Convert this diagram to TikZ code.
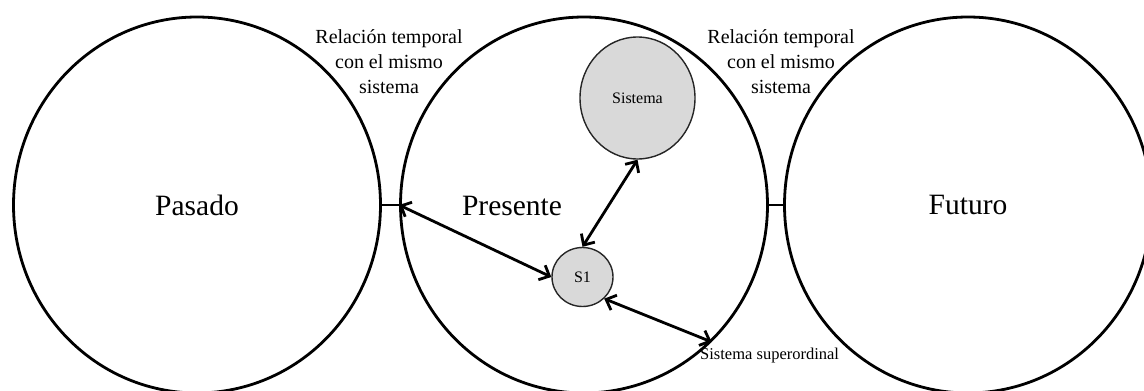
\documentclass[tikz,border=0pt]{standalone}
\usepackage{fontspec}
\setmainfont{Liberation Serif}
\usetikzlibrary{arrows.meta,shapes.geometric}
\begin{document}
\begin{tikzpicture}[x=1pt,y=-1pt,
  era/.style={draw, ellipse, line width=2.8pt, minimum width=367pt,
    minimum height=376pt, inner sep=0pt, font=\fontsize{29.5}{34}\selectfont},
  bigtext/.style={font=\fontsize{29.5}{34}\selectfont, inner sep=0pt},
  subsys/.style={draw=black!85, fill=gray!30, ellipse, line width=1.4pt,
    inner sep=0pt, font=\fontsize{16}{19}\selectfont},
  note/.style={align=center, inner sep=0pt, font=\fontsize{20}{25}\selectfont},
  link/.style={line width=2.8pt,
    {Straight Barb[length=8.5pt,width=16pt]}-{Straight Barb[length=8.5pt,width=16pt]}},
  joint/.style={line width=2.8pt},
]
\useasboundingbox (0,0) rectangle (1144,391);

% the three time frames
\node[era] (past) at (197,205) {Pasado};
\node[era] (now) at (584,205) {};
\node[era] (future) at (968,205) {Futuro};
\node[bigtext] (nowlabel) at (512,206) {Presente};

% links between consecutive time frames
\draw[joint] (past.east) -- (now.west);
\draw[joint] (now.east) -- (future.west);

\node[note] (relleft) at (389,62) {Relación temporal\\con el mismo\\sistema};
\node[note] (relright) at (781,62) {Relación temporal\\con el mismo\\sistema};

% systems inside the present
\node[subsys, minimum width=115pt, minimum height=122pt] (sys) at (637.5,98) {Sistema};
\node[subsys, minimum width=61pt, minimum height=59pt] (s1) at (582.5,277) {S1};

\node[anchor=west, inner sep=0pt, font=\fontsize{16.5}{20}\selectfont] (super) at (700,356) {Sistema superordinal};

% relations of S1
\draw[link] (now.west) -- (s1.west);
\draw[link] (s1.north) -- (sys.south);
\draw[link] (s1.-45) -- (now.-47);
\end{tikzpicture}
\end{document}
